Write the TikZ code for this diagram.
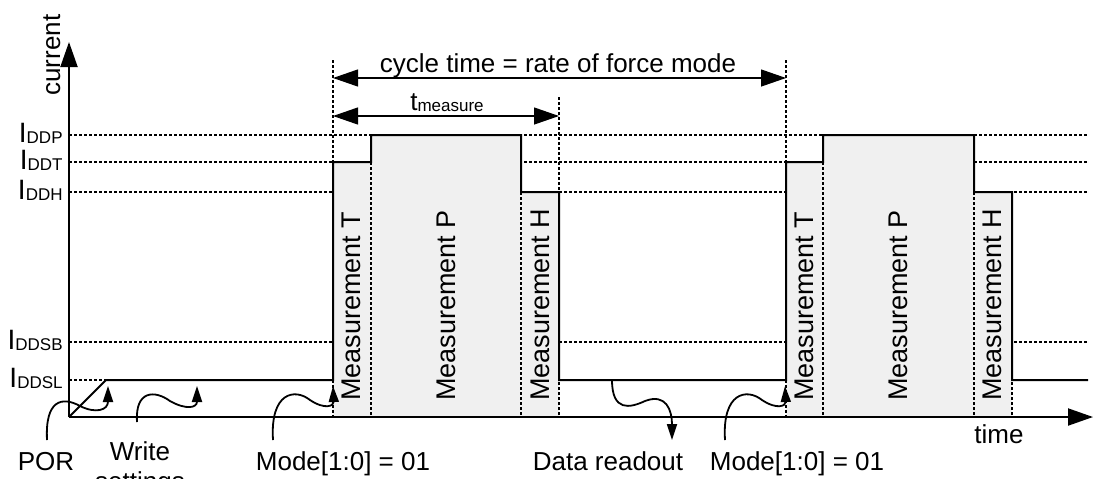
\documentclass[tikz,border=0pt]{standalone}
\usepackage{fontspec}
\setmainfont{Liberation Sans}
\usetikzlibrary{arrows.meta}
\definecolor{pulsegrey}{HTML}{F0F0F0}
\newcommand{\mysub}[1]{\raisebox{-0.6pt}{\fontsize{8.5}{10}\selectfont #1}}
\begin{document}
\begin{tikzpicture}[x=0.5pt,y=-0.5pt,
  guide/.style={line width=0.6pt, dash pattern=on 1.5pt off 1pt},
  wave/.style={line width=1pt, line join=miter},
  axis/.style={line width=1pt, -{Triangle[length=12.5pt,width=8.5pt]}},
  dim/.style={line width=0.6pt, {Triangle[length=12.5pt,width=8.5pt]}-{Triangle[length=12.5pt,width=8.5pt]}},
  callout/.style={line width=0.9pt, -{Triangle[length=8pt,width=5pt]}},
  lbl/.style={font=\fontsize{13}{15}\selectfont, inner sep=0pt},
  lvl/.style={font=\fontsize{14}{16}\selectfont, inner sep=0pt, anchor=base east},
  meas/.style={font=\fontsize{13.5}{15}\selectfont, inner sep=0pt, rotate=90, anchor=base west}]
\useasboundingbox (0,0) rectangle (1095,478);
\clip (0,0) rectangle (1095,478);
% horizontal level guides
\foreach \yy in {135,162,192,342,380} \draw[guide] (69,\yy) -- (1088,\yy);
% pulse fills
\fill[pulsegrey] (333,417) -- (333,162) -- (371,162) -- (371,135) -- (521,135) -- (521,192) -- (559,192) -- (559,417) -- cycle;
\fill[pulsegrey] (786,417) -- (786,162) -- (823,162) -- (823,135) -- (974,135) -- (974,192) -- (1012,192) -- (1012,417) -- cycle;
% vertical guides
\draw[guide] (333,60) -- (333,417);
\draw[guide] (371,162) -- (371,417);
\draw[guide] (521,192) -- (521,417);
\draw[guide] (559,97) -- (559,417);
\draw[guide] (786,60) -- (786,417);
\draw[guide] (823,162) -- (823,417);
\draw[guide] (974,192) -- (974,417);
\draw[guide] (1012,192) -- (1012,417);
% waveform
\draw[wave] (69,417) -- (106,380) -- (333,380) -- (333,162) -- (371,162) -- (371,135) -- (521,135) -- (521,192) -- (559,192) -- (559,380) -- (786,380) -- (786,162) -- (823,162) -- (823,135) -- (974,135) -- (974,192) -- (1012,192) -- (1012,380) -- (1088,380);
% axes
\coordinate (origin) at (69,417);
\coordinate (xend) at (1093,417);
\coordinate (yend) at (69,42);
\draw[axis] (origin) -- (xend);
\draw[axis] (origin) -- (yend);
\node[lbl, rotate=90, anchor=base] (current) at (60,55) {current};
\node[lbl, anchor=base] (time) at (999,443) {time};
% level labels
\node[lvl] (ddp) at (63,142) {I\mysub{DDP}};
\node[lvl] (ddt) at (63,169) {I\mysub{DDT}};
\node[lvl] (ddh) at (63,199) {I\mysub{DDH}};
\node[lvl] (ddsb) at (63,349) {I\mysub{DDSB}};
\node[lvl] (ddsl) at (63,387) {I\mysub{DDSL}};
% dimension arrows
\coordinate (c1) at (333,78); \coordinate (c2) at (786,78);
\coordinate (m1) at (333,116); \coordinate (m2) at (559,116);
\draw[dim] (c1) -- (c2);
\draw[dim] (m1) -- (m2);
\node[lbl, anchor=base] (cyc) at (558,72) {cycle time = rate of force mode};
\node[lbl, anchor=base] (tm) at (447,110) {t\mysub{measure}};
% measurement labels
\node[meas] (mt1) at (360,401) {Measurement T};
\node[meas] (mp1) at (455,401) {Measurement P};
\node[meas] (mh1) at (549,401) {Measurement H};
\node[meas] (mt2) at (813,401) {Measurement T};
\node[meas] (mp2) at (907,401) {Measurement P};
\node[meas] (mh2) at (1001,401) {Measurement H};
% bottom labels
\node[lbl, anchor=base] (por) at (46,470) {POR};
\node[lbl, anchor=north, align=center] (write) at (140,441) {Write\\settings};
\node[lbl, anchor=base] (mode1) at (343,470) {Mode[1:0] = 01};
\node[lbl, anchor=base] (readout) at (608,470) {Data readout};
\node[lbl, anchor=base] (mode2) at (797,470) {Mode[1:0] = 01};
% callout arrows
\coordinate (porS) at (47,440); \coordinate (porT) at (108,386);
\draw[callout] (porS) .. controls (45,400) and (62,396) .. (80,406) .. controls (96,414) and (108,410) .. (porT);
\coordinate (wrS) at (137,422); \coordinate (wrT) at (197,386);
\draw[callout] (wrS) .. controls (135,390) and (155,390) .. (170,401) .. controls (186,410) and (197,408) .. (wrT);
\coordinate (m1S) at (273,440); \coordinate (m1T) at (333,386);
\draw[callout] (m1S) .. controls (270,392) and (295,388) .. (310,400) .. controls (325,410) and (334,406) .. (m1T);
\coordinate (m2S) at (725,440); \coordinate (m2T) at (785,386);
\draw[callout] (m2S) .. controls (722,392) and (747,388) .. (762,400) .. controls (777,410) and (786,406) .. (m2T);
\coordinate (drS) at (612,380); \coordinate (drT) at (672,440);
\draw[callout] (drS) .. controls (612,412) and (630,408) .. (645,401) .. controls (666,393) and (672,410) .. (drT);
\end{tikzpicture}
\end{document}
